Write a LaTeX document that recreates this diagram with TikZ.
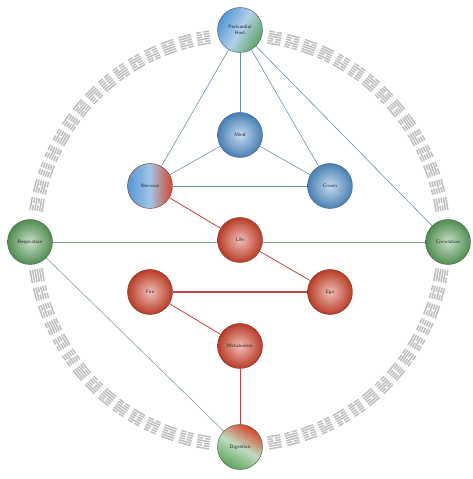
\documentclass[tikz,border=0pt]{standalone}
\usepackage{tikz}
\usetikzlibrary{positioning,backgrounds}

\definecolor{ballblue}{RGB}{85,150,210}
\definecolor{ballred}{RGB}{215,70,45}
\definecolor{ballgreen}{RGB}{95,165,95}
\definecolor{edgeblue}{RGB}{105,145,170}
\definecolor{edgered}{RGB}{195,70,70}
\definecolor{edgegreen}{RGB}{130,165,135}
\definecolor{hexgray}{RGB}{190,190,190}

\tikzset{
  ball/.style={circle, minimum size=45pt, inner sep=0pt, align=center,
    font=\sffamily\fontsize{5}{6}\selectfont, text=black!85},
  blueball/.style={ball, shading=radial, inner color=ballblue!35!white,
    outer color=ballblue!85!black, draw=ballblue!60!black, thin},
  redball/.style={ball, shading=radial, inner color=ballred!35!white,
    outer color=ballred!85!black, draw=ballred!60!black, thin},
  greenball/.style={ball, shading=radial, inner color=ballgreen!35!white,
    outer color=ballgreen!85!black, draw=ballgreen!60!black, thin},
  bluelink/.style={draw=edgeblue, line width=0.6pt},
  redlink/.style={draw=edgered, line width=0.8pt},
  greenlink/.style={draw=edgegreen, line width=0.6pt},
}

\begin{document}
\begin{tikzpicture}[x=1pt,y=1pt]
  \useasboundingbox (0,0) rectangle (472,479);

  % Define nodes
  \node[redball]                      (life)  at (240,239) {Life};
  \node[blueball]                     (mind)  at (240,344) {Mind};
  \node[ball, left color=ballblue, right color=ballred, middle color=ballblue!55!white,
        draw=ballred!60!black, thin] (nerve) at (150,293) {Nervous};
  \node[blueball]                     (crown) at (330,293) {Crown};
  \node[ball, left color=ballblue, right color=ballgreen, middle color=ballblue!45!white,
        shading angle=60, draw=ballblue!60!black, thin] (peri) at (240,449) {Pericardial\\Host};
  \node[redball]                      (fire)  at (150,187) {Fire};
  \node[redball]                      (ego)   at (330,187) {Ego};
  \node[redball, below=106pt of life.center, anchor=center] (meta) {Metabolism};
  \node[greenball]                    (resp)  at (30,237)  {Respiration};
  \node[greenball]                    (circ)  at (448,237) {Circulation};
  \node[ball, top color=ballred, bottom color=ballgreen, middle color=ballgreen!40!white,
        shading angle=-30, draw=ballgreen!50!black, thin] (dige) at (240,32) {Digestion};

  % Ring of hexagrams
  \begin{scope}[on background layer]
    \foreach \i in {0,...,71}{
      \pgfmathtruncatemacro\pos{mod(\i,18)}
      \pgfmathsetmacro\ang{90-5*\i}
      \ifnum\pos<2 \else \ifnum\pos>16 \else
        \begin{scope}[shift={(239,239)}, shift={(\ang:205)}, rotate=\ang-90]
          \foreach \j in {0,...,5}{
            \pgfmathtruncatemacro\bit{mod(int(mod(\i*11+3,64)/2^\j),2)}
            \pgfmathsetmacro\yy{-6+2.4*\j}
            \ifnum\bit=1
              \fill[hexgray] (-6.5,\yy-0.75) rectangle (6.5,\yy+0.75);
            \else
              \fill[hexgray] (-6.5,\yy-0.75) rectangle (-1,\yy+0.75);
              \fill[hexgray] (1,\yy-0.75) rectangle (6.5,\yy+0.75);
            \fi
          }
        \end{scope}
      \fi\fi
    }

    % Factors
    \draw[greenlink] (resp) -- (circ);
    \draw[greenlink] (resp) -- (dige);
    \draw[bluelink] (peri) -- (nerve);
    \draw[bluelink] (peri) -- (mind);
    \draw[bluelink] (peri) -- (crown);
    \draw[bluelink] (peri) -- (circ);
    \draw[bluelink] (mind) -- (nerve);
    \draw[bluelink] (mind) -- (crown);
    \draw[bluelink] (nerve) -- (crown);
    \draw[redlink] (nerve) -- (life);
    \draw[redlink] (life) -- (ego);
    \draw[redlink, line width=1.1pt] (fire) -- (ego);
    \draw[redlink] (fire) -- (meta);
    \draw[redlink] (meta) -- (dige);
  \end{scope}

\end{tikzpicture}
\end{document}
